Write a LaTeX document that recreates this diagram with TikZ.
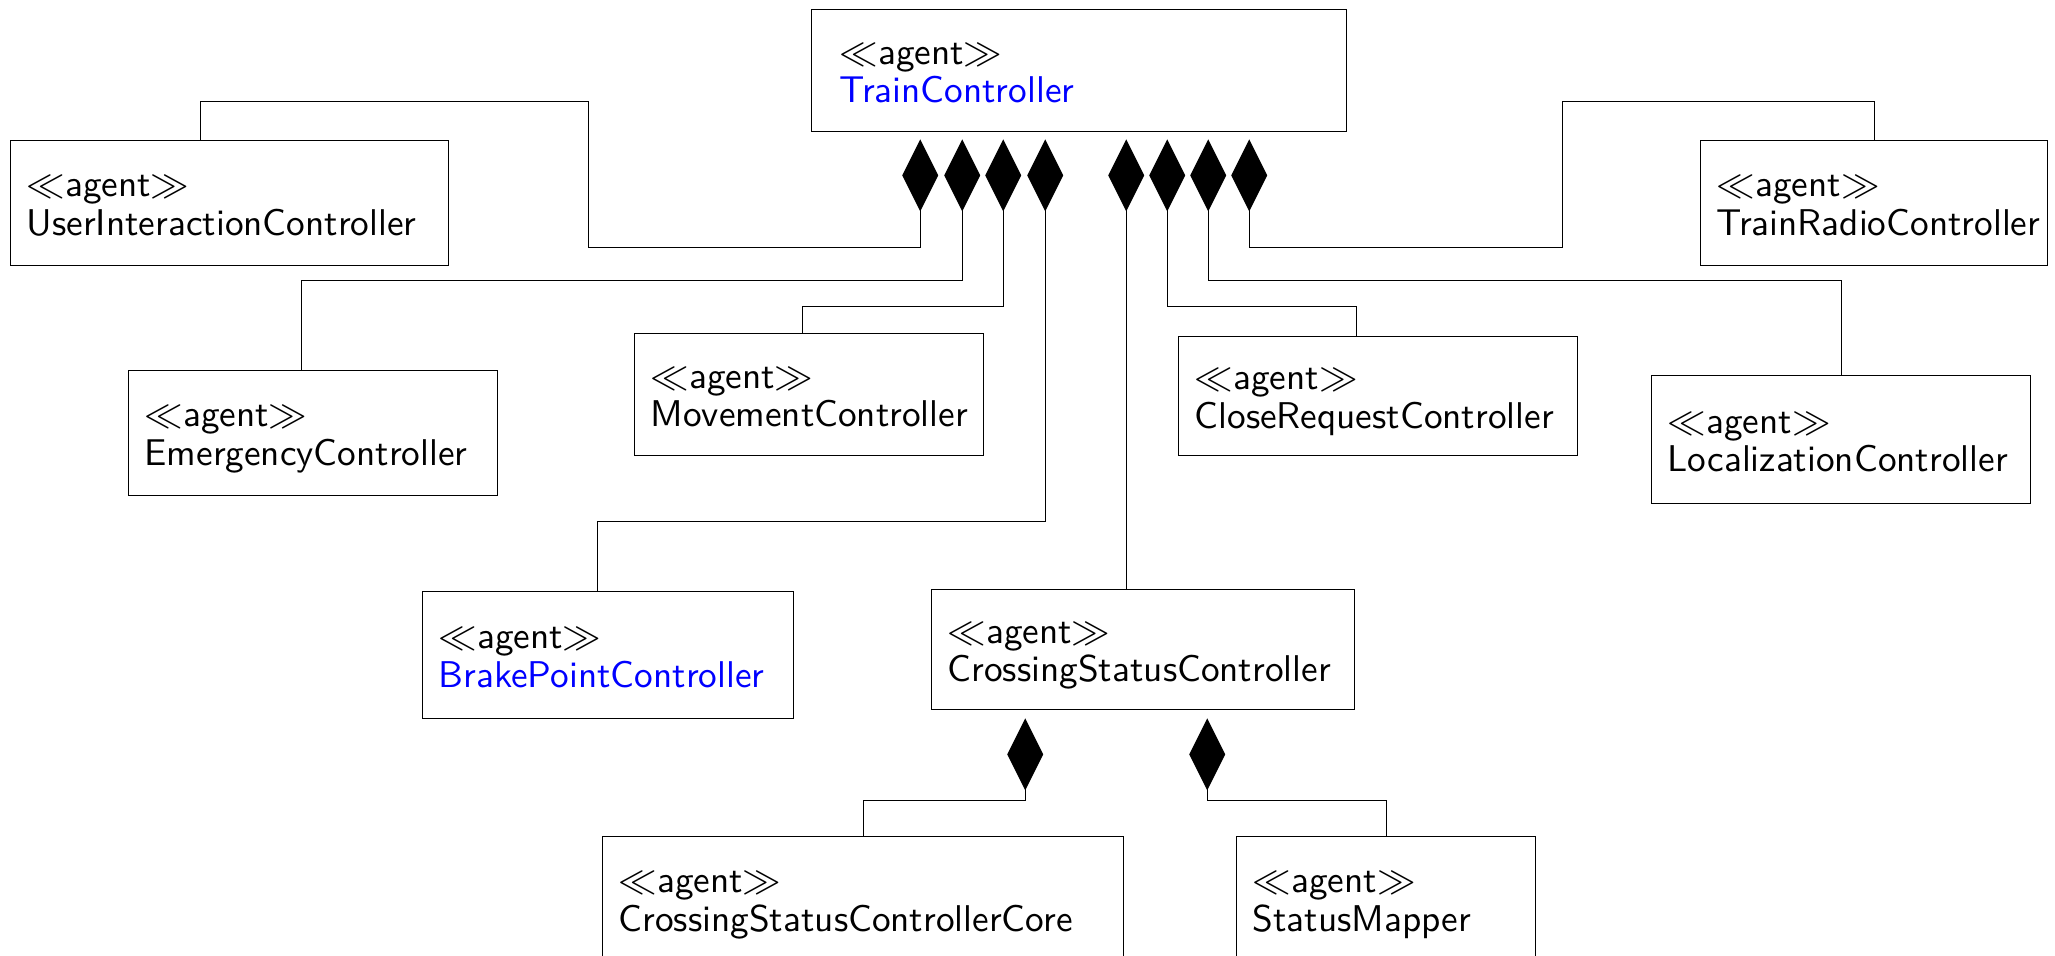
\documentclass[tikz,border=0pt]{standalone}
\usepackage{tikz}
\usetikzlibrary{arrows.meta}
\newcommand{\agentfont}{\sffamily\fontsize{10.6}{10.95}\selectfont}
\newcommand{\stereo}{$\ll$agent$\gg$}
\tikzset{
    agent/.style={rectangle, draw, anchor=north west, align=left, text width=#1, text height=7pt, text depth=10.7pt, inner xsep=0.16cm, minimum height=1.25cm, font=\agentfont},
    comp/.style={{Diamond[length=0.72cm, width=0.36cm]}-, shorten <=0.07cm},
}

\begin{document}
\begin{tikzpicture}
    \useasboundingbox (0,0) rectangle (20.55,-9.55);

    % top level agent
    \node[agent=4.79cm, inner xsep=0.28cm, minimum height=1.22cm] (train) at (8.11,-0.09) {\stereo\\\textcolor{blue}{TrainController}};

    % agents owned by the train controller
    \node[agent=4.06cm] (userint) at (0.10,-1.40) {\stereo\\UserInteractionController};
    \node[agent=3.15cm] (radio) at (17.00,-1.40) {\stereo\\TrainRadioController};
    \node[agent=3.37cm] (emergency) at (1.28,-3.70) {\stereo\\EmergencyController};
    \node[agent=3.17cm, minimum height=1.22cm] (movement) at (6.34,-3.33) {\stereo\\MovementController};
    \node[agent=3.67cm, minimum height=1.19cm] (closereq) at (11.78,-3.36) {\stereo\\CloseRequestController};
    \node[agent=3.47cm, minimum height=1.28cm] (localiz) at (16.51,-3.75) {\stereo\\LocalizationController};
    \node[agent=3.39cm, minimum height=1.27cm] (brake) at (4.22,-5.91) {\stereo\\\textcolor{blue}{BrakePointController}};
    \node[agent=3.91cm, minimum height=1.20cm] (crossing) at (9.31,-5.89) {\stereo\\CrossingStatusController};

    % parts of the crossing status controller
    \node[agent=4.89cm] (core) at (6.02,-8.36) {\stereo\\CrossingStatusControllerCore};
    \node[agent=2.67cm] (mapper) at (12.36,-8.36) {\stereo\\StatusMapper};

    % compositions
    \draw[comp] ([xshift=-1.59cm]train.south) -- ++(0,-1.15) -- ++(-3.32,0) -- ++(0,1.46) -| ([xshift=-0.29cm]userint.north);
    \draw[comp] ([xshift=-1.17cm]train.south) -- ++(0,-1.48) -| ([xshift=-0.12cm]emergency.north);
    \draw[comp] ([xshift=-0.76cm]train.south) -- ++(0,-1.74) -| ([xshift=-0.07cm]movement.north);
    \draw[comp] ([xshift=-0.34cm]train.south) -- ++(0,-3.89) -| ([xshift=-0.11cm]brake.north);
    \draw[comp] ([xshift=0.47cm]train.south) coordinate (c5) -- (c5 |- crossing.north);
    \draw[comp] ([xshift=0.88cm]train.south) -- ++(0,-1.74) -| ([xshift=-0.22cm]closereq.north);
    \draw[comp] ([xshift=1.29cm]train.south) -- ++(0,-1.48) -| (localiz.north);
    \draw[comp] ([xshift=1.70cm]train.south) -- ++(0,-1.15) -- ++(3.13,0) -- ++(0,1.46) -| (radio.north);

    \draw[comp, shorten <=0.08cm] ([xshift=-1.18cm]crossing.south) -- ++(0,-0.90) -| (core.north);
    \draw[comp, shorten <=0.08cm] ([xshift=0.64cm]crossing.south) -- ++(0,-0.90) -| (mapper.north);
\end{tikzpicture}
\end{document}
